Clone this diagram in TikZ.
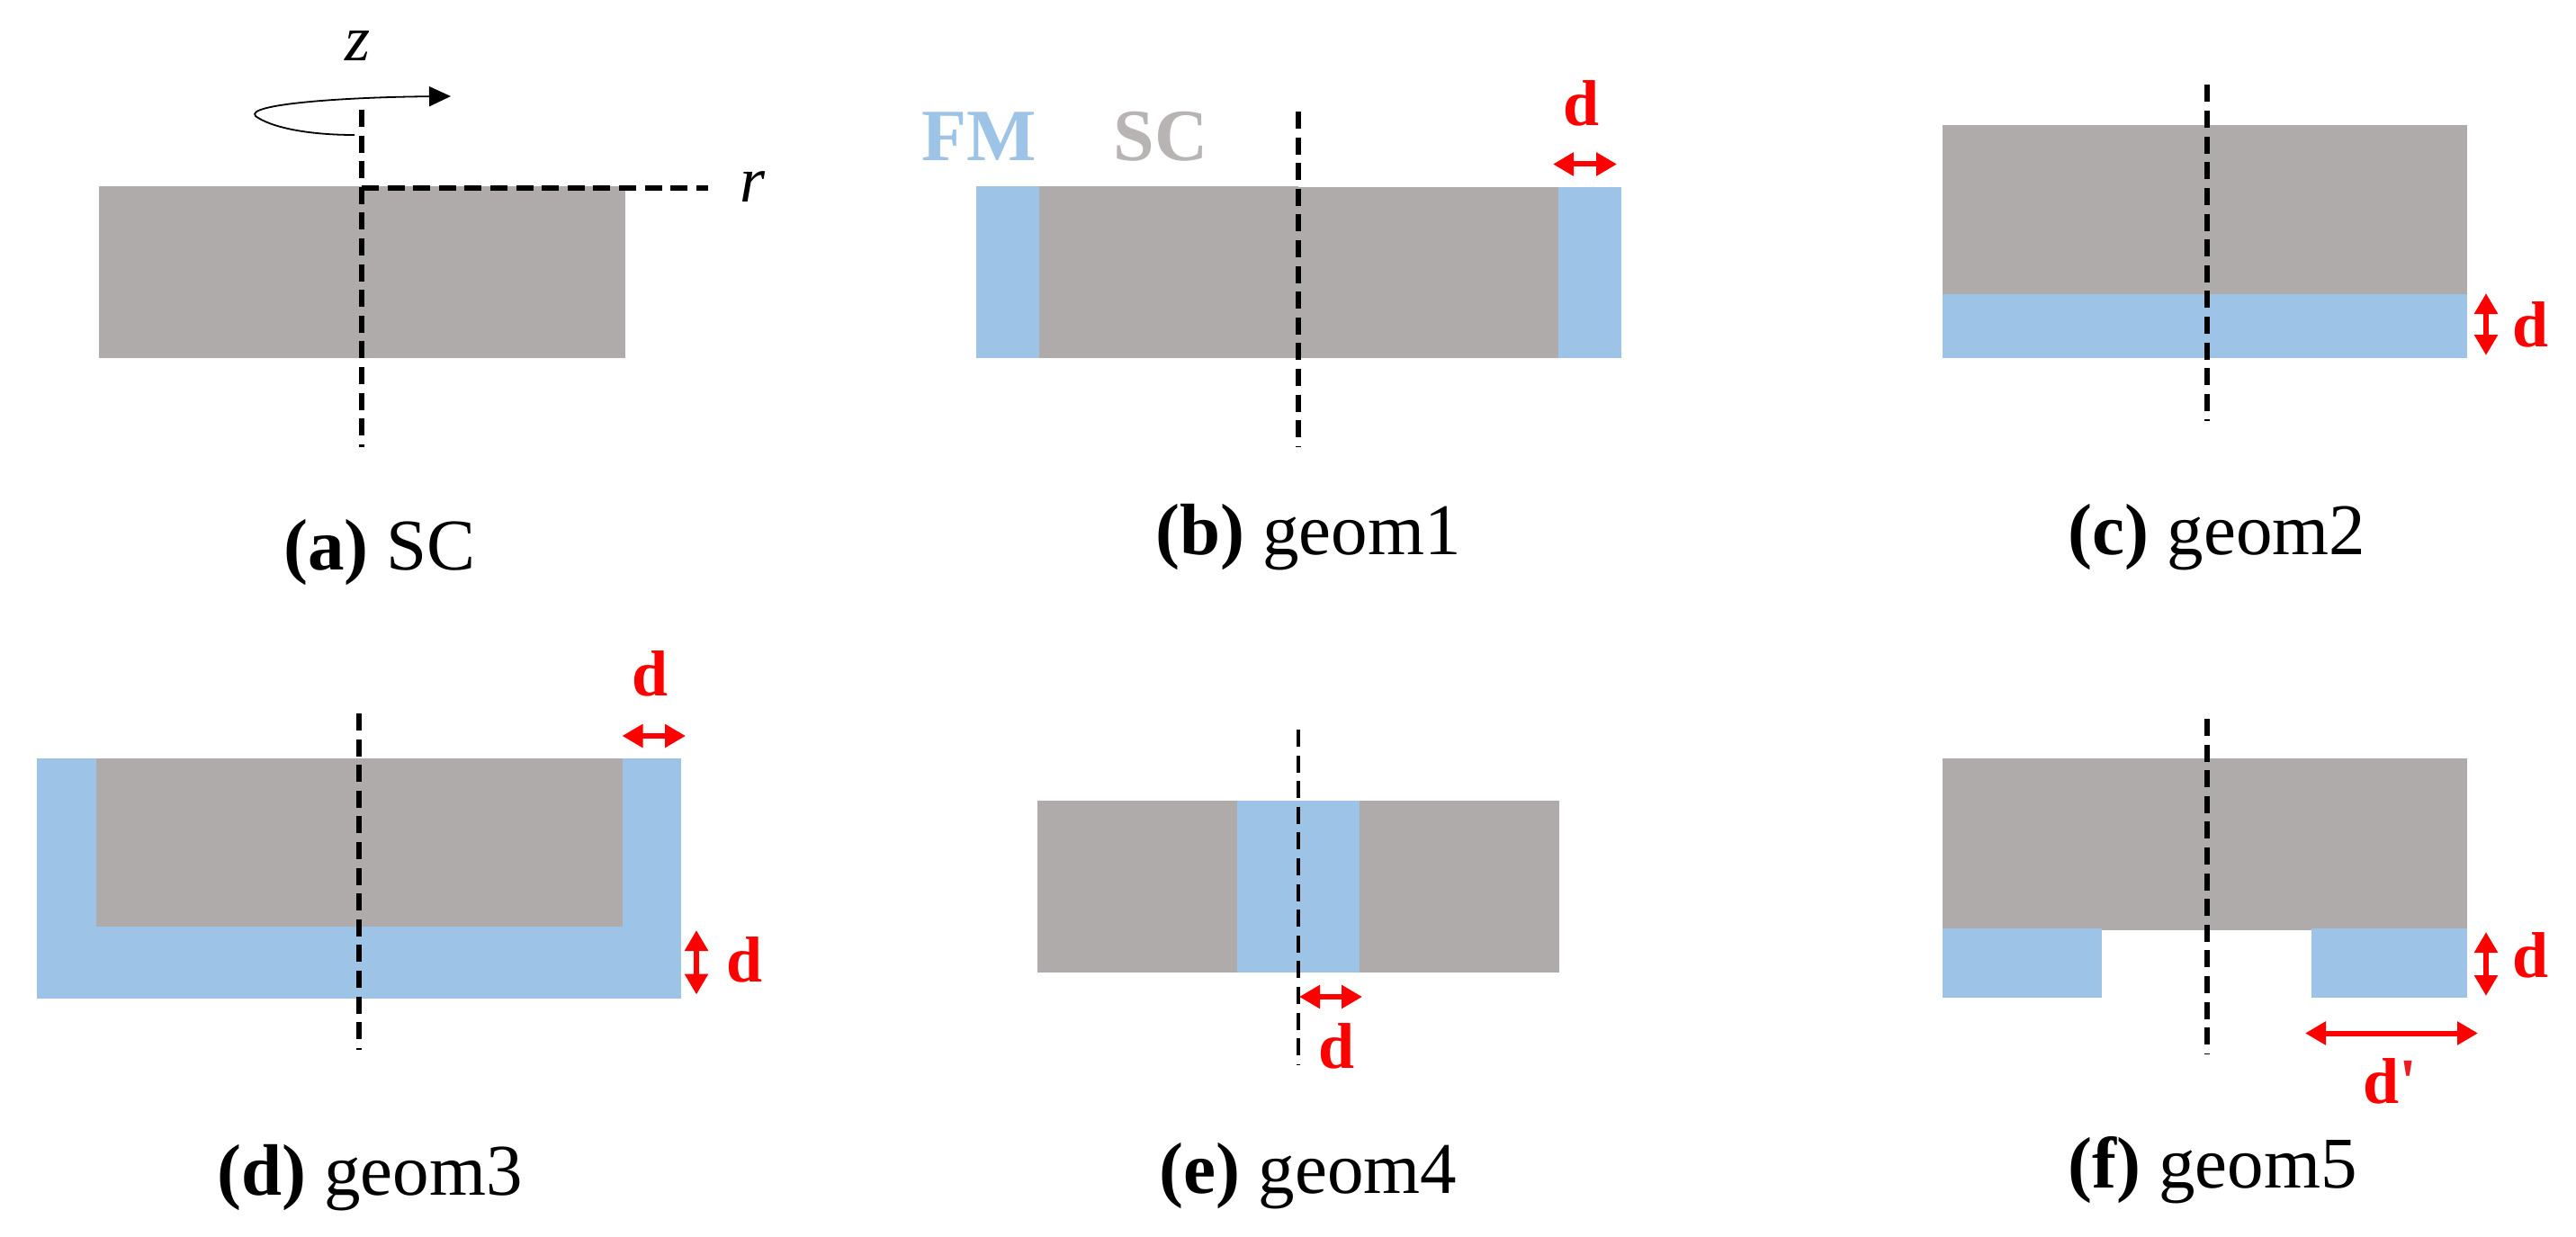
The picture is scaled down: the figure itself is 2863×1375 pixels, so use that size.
\documentclass[tikz,border=0pt]{standalone}
\usepackage{fontspec}
\setmainfont{Liberation Serif}
\usetikzlibrary{arrows.meta}
\definecolor{scgray}{HTML}{AFABAA}
\definecolor{sctext}{HTML}{B7B4B3}
\definecolor{fmblue}{HTML}{9DC3E6}
\definecolor{dimred}{HTML}{FF0000}
\definecolor{primered}{HTML}{ED1C24}
\tikzset{
  sc/.style={fill=scgray,draw=none},
  fm/.style={fill=fmblue,draw=none},
  axisline/.style={black,line width=5.2pt,dash pattern=on 19pt off 9.6pt},
  axisthin/.style={black,line width=4.2pt,dash pattern=on 19pt off 9.6pt},
  dimarrow/.style={dimred,line width=6pt,{Triangle[length=23pt,width=25pt]}-{Triangle[length=23pt,width=25pt]}},
  lbl/.style={anchor=base,inner sep=0pt,outer sep=0pt},
  caption/.style={lbl,font=\fontsize{81}{97}\selectfont},
  dlabel/.style={lbl,text=dimred,font=\fontsize{72}{86}\selectfont\bfseries},
  axlabel/.style={lbl,font=\fontsize{72}{86}\selectfont\itshape},
  material/.style={lbl,font=\fontsize{82}{98}\selectfont\bfseries},
}
\begin{document}
\begin{tikzpicture}[x=1pt,y=-1pt]
\useasboundingbox (0,0) rectangle (2863,1375);

% ---------- (a) SC
\fill[sc] (110,207) rectangle (695,398);
\coordinate (aTop) at (402,122);
\coordinate (aBot) at (402,497);
\coordinate (aOrg) at (402,209);
\coordinate (aR)   at (787,209);
\draw[axisline] (aTop) -- (aBot);
\draw[axisline] (aOrg) -- (aR);
\node[axlabel] (zlab) at (398,68) {z};
\node[axlabel] (rlab) at (836,224) {r};
\coordinate (arcS) at (394,150);
\coordinate (arcL) at (284,129);
\coordinate (arcE) at (501,107);
\draw[black,line width=1.8pt,-{Triangle[length=24pt,width=22pt]}]
  (arcS) .. controls (340,150) and (300,141) .. (arcL)
         .. controls (272,116) and (380,108) .. (arcE);
\node[caption] (capa) at (422,633) {\textbf{(a)} SC};

% ---------- (b) geom1
\fill[fm] (1085,207) rectangle (1156,398);
\fill[sc] (1155,207) rectangle (1443,398);
\fill[sc] (1443,208) rectangle (1733,398);
\fill[fm] (1732,208) rectangle (1802,398);
\coordinate (bTop) at (1443,124);
\coordinate (bBot) at (1443,497);
\draw[axisline] (bTop) -- (bBot);
\node[material,text=fmblue] (fmlab) at (1088,179) {FM};
\node[material,text=sctext] (sclab) at (1290,179) {SC};
\coordinate (bA1) at (1726,182.5);
\coordinate (bA2) at (1797,182.5);
\draw[dimarrow] (bA1) -- (bA2);
\node[dlabel] (bd) at (1757,140) {d};
\node[caption] (capb) at (1454,616) {\textbf{(b)} geom1};

% ---------- (c) geom2
\fill[sc] (2159,139) rectangle (2742,328);
\fill[fm] (2159,327) rectangle (2742,398);
\coordinate (cTop) at (2453,94.5);
\coordinate (cBot) at (2453,468);
\draw[axisline] (cTop) -- (cBot);
\coordinate (cA1) at (2763,326);
\coordinate (cA2) at (2763,395);
\draw[dimarrow] (cA1) -- (cA2);
\node[dlabel] (cd) at (2812,385) {d};
\node[caption] (capc) at (2464,616) {\textbf{(c)} geom2};

% ---------- (d) geom3
\fill[fm] (41,843) rectangle (757,1110);
\fill[sc] (107,843) rectangle (692,1030);
\coordinate (dTop) at (399,793);
\coordinate (dBot) at (399,1167);
\draw[axisline] (dTop) -- (dBot);
\coordinate (dA1) at (691.5,818);
\coordinate (dA2) at (762,818);
\draw[dimarrow] (dA1) -- (dA2);
\node[dlabel] (dd1) at (723,773) {d};
\coordinate (dB1) at (774,1034);
\coordinate (dB2) at (774,1105.5);
\draw[dimarrow] (dB1) -- (dB2);
\node[dlabel] (dd2) at (828,1091) {d};
\node[caption] (capd) at (411,1328) {\textbf{(d)} geom3};

% ---------- (e) geom4
\fill[sc] (1153,890) rectangle (1733,1081);
\fill[fm] (1375,890) rectangle (1511,1081);
\coordinate (eTop) at (1443,811);
\coordinate (eBot) at (1443,1184);
\draw[axisthin] (eTop) -- (eBot);
\coordinate (eA1) at (1444,1108);
\coordinate (eA2) at (1514,1108);
\draw[dimarrow] (eA1) -- (eA2);
\node[dlabel] (ed) at (1486,1187.5) {d};
\node[caption] (cape) at (1454,1326) {\textbf{(e)} geom4};

% ---------- (f) geom5
\fill[sc] (2159,843) rectangle (2742,1034);
\fill[fm] (2159,1032) rectangle (2336,1109);
\fill[fm] (2569,1032) rectangle (2742,1109);
\coordinate (fTop) at (2453,799);
\coordinate (fBot) at (2453,1172);
\draw[axisline] (fTop) -- (fBot);
\coordinate (fA1) at (2763,1036);
\coordinate (fA2) at (2763,1107);
\draw[dimarrow] (fA1) -- (fA2);
\node[dlabel] (fd) at (2812,1086) {d};
\coordinate (fB1) at (2562,1148.5);
\coordinate (fB2) at (2754,1148.5);
\draw[dimarrow] (fB1) -- (fB2);
\node[dlabel] (fdp) at (2656,1226) {d\textcolor{primered}{\textquotesingle}};
\node[caption] (capf) at (2459,1320) {\textbf{(f)} geom5};
\end{tikzpicture}
\end{document}
